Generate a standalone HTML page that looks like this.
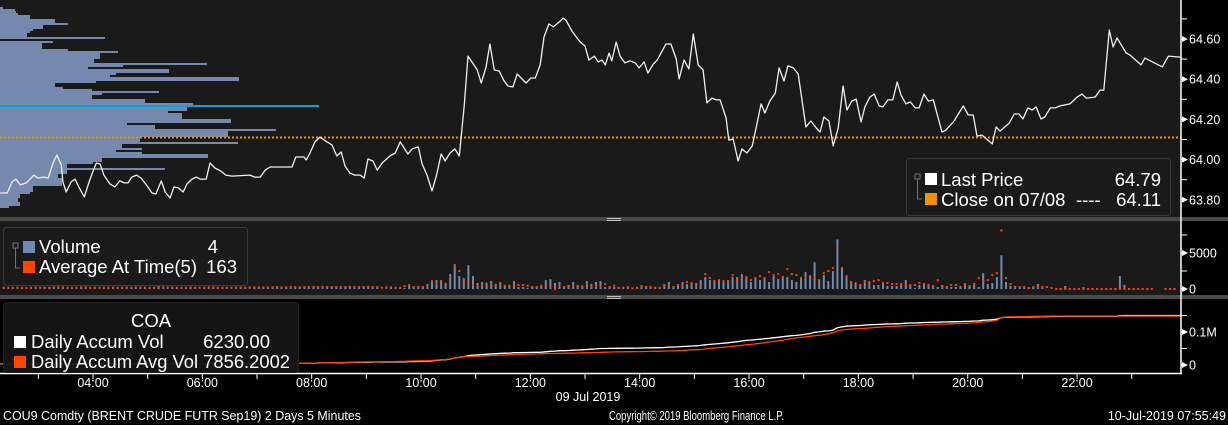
<!DOCTYPE html>
<html><head><meta charset="utf-8"><style>
html,body{margin:0;padding:0;background:#000;width:1228px;height:425px;overflow:hidden}
svg{display:block;font-family:"Liberation Sans",Arial,sans-serif}
</style></head><body>
<svg id="chart" width="1228" height="425" viewBox="0 0 1228 425" xmlns="http://www.w3.org/2000/svg">
<rect x="0" y="0" width="1228" height="425" fill="#000"/>
<rect x="0" y="0" width="1181" height="217" fill="#1a1a1a"/>
<rect x="0" y="217" width="1228" height="4" fill="#4a4a4a"/>
<rect x="0" y="221" width="1181" height="74" fill="#1a1a1a"/>
<rect x="0" y="295" width="1228" height="4" fill="#4a4a4a"/>
<rect x="0" y="299" width="1181" height="74" fill="#000"/>
<g id="profile" shape-rendering="crispEdges"></g><g id="price"></g><g id="vol"></g><g id="acc"></g><g id="axes"></g>
</svg>
<script>
const priceHours=[2.30,2.43,2.52,2.59,2.67,2.78,2.85,2.92,2.99,3.10,3.18,3.27,3.34,3.42,3.45,3.51,3.60,3.67,3.74,3.84,3.91,3.98,4.06,4.13,4.20,4.31,4.40,4.49,4.57,4.64,4.71,4.80,4.88,4.99,5.08,5.15,5.25,5.32,5.41,5.48,5.56,5.65,5.72,5.81,5.89,5.96,6.07,6.14,6.23,6.34,6.43,6.54,6.87,6.96,7.06,7.15,7.24,7.64,7.71,7.86,7.90,7.97,8.06,8.15,8.28,8.37,8.46,8.54,8.61,8.70,8.79,8.89,8.96,9.03,9.12,9.20,9.29,9.43,9.53,9.62,9.76,9.84,9.95,10.02,10.11,10.20,10.28,10.37,10.44,10.53,10.62,10.70,10.79,10.86,10.93,11.03,11.10,11.19,11.26,11.34,11.43,11.52,11.59,11.68,11.76,11.83,11.92,12.01,12.09,12.18,12.25,12.34,12.42,12.53,12.60,12.65,12.76,12.91,13.00,13.07,13.17,13.24,13.31,13.37,13.44,13.49,13.57,13.64,13.73,13.82,13.92,13.99,14.08,14.15,14.25,14.32,14.41,14.48,14.57,14.67,14.72,14.81,14.90,14.98,15.07,15.16,15.23,15.32,15.40,15.47,15.58,15.63,15.71,15.80,15.87,15.96,16.06,16.22,16.29,16.38,16.48,16.55,16.64,16.71,16.81,16.90,17.04,17.13,17.23,17.30,17.37,17.46,17.54,17.63,17.72,17.79,17.88,17.96,18.05,18.12,18.21,18.29,18.38,18.45,18.54,18.63,18.71,18.78,18.87,18.95,19.04,19.11,19.20,19.28,19.37,19.53,19.60,19.75,19.92,20.01,20.10,20.17,20.26,20.45,20.52,20.59,20.76,20.85,20.94,21.01,21.10,21.18,21.25,21.34,21.41,21.51,21.60,21.69,21.78,21.87,22.00,22.09,22.17,22.33,22.42,22.49,22.59,22.66,22.73,22.90,22.97,23.17,23.24,23.56,23.67,23.89];
const priceValues=[63.834,63.834,63.889,63.903,63.874,63.884,63.903,63.923,63.908,63.913,63.908,63.983,64.023,63.973,63.889,63.839,63.889,63.903,63.864,63.814,63.874,63.928,63.983,63.978,63.923,63.879,63.864,63.894,63.884,63.884,63.913,63.923,63.908,63.869,63.834,63.829,63.894,63.839,63.809,63.864,63.859,63.839,63.879,63.903,63.913,63.903,63.903,63.983,63.958,63.943,63.923,63.918,63.923,63.913,63.913,63.948,63.963,63.963,64.013,64.013,63.998,64.033,64.088,64.112,64.088,64.073,64.018,64.038,63.968,63.933,63.923,63.923,63.908,64.003,63.993,63.948,63.983,64.018,64.033,64.088,64.028,64.053,64.063,63.978,63.923,63.844,63.918,64.028,63.993,64.033,64.053,64.018,64.267,64.515,64.486,64.446,64.381,64.461,64.575,64.446,64.441,64.391,64.366,64.361,64.426,64.406,64.381,64.406,64.406,64.471,64.610,64.675,64.660,64.685,64.704,64.694,64.640,64.585,64.565,64.495,64.515,64.486,64.495,64.471,64.530,64.491,64.585,64.515,64.481,64.491,64.481,64.456,64.486,64.431,64.476,64.495,64.540,64.575,64.575,64.500,64.401,64.495,64.451,64.625,64.471,64.446,64.282,64.306,64.297,64.297,64.207,64.097,64.102,63.993,64.053,64.033,64.068,64.277,64.232,64.291,64.331,64.456,64.391,64.466,64.456,64.426,64.162,64.192,64.157,64.137,64.212,64.192,64.068,64.157,64.366,64.247,64.291,64.301,64.187,64.262,64.311,64.326,64.267,64.262,64.297,64.297,64.386,64.321,64.277,64.287,64.257,64.257,64.326,64.291,64.297,64.137,64.147,64.192,64.267,64.222,64.222,64.117,64.122,64.078,64.162,64.142,64.182,64.227,64.227,64.202,64.257,64.247,64.262,64.202,64.212,64.257,64.257,64.267,64.272,64.277,64.311,64.326,64.306,64.311,64.346,64.346,64.645,64.560,64.605,64.530,64.520,64.471,64.505,64.461,64.515,64.510];
const closePrice=64.11;
const profileTop=64.76;
const profileVol=[3,15,16,18,30,30,55,55,68,43,43,33,30,27,27,105,0,53,42,42,42,68,118,100,100,100,94,94,207,123,88,169,169,116,110,239,239,96,55,55,63,92,159,102,92,92,145,145,193,319,187,187,168,182,182,182,231,231,127,155,155,276,228,228,228,140,140,238,122,122,142,116,142,208,208,102,102,93,67,67,165,67,67,58,58,62,62,62,62,33,33,33,30,20,20,18,18,20,20,9];
const profileHighlightRow=49;
const VOL_LOT=46;
const volLots=[3,2,2,1,2,3,2,2,1,6,5,6,4,3,3,2,2,3,4,2,2,1,2,3,2,2,3,2,3,4,3,3,2,2,11,2,2,4,5,2,2,3,3,1,2,2,3,3,2,2,1,2,3,2,2,3,4,4,3,6,5,4,7,3,5,4,6,5,9,4,6,5,4,6,3,4,6,5,4,7,6,5,4,
0,2,3,3,5,3,10,5,5,5,15,26,27,26,17,45,75,39,33,72,39,18,21,17,24,15,20,10,10,24,6,6,4,5,5,8,27,30,18,21,6,12,21,12,10,24,15,21,24,6,3,6,3,3,3,0,3,12,6,6,3,3,15,21,6,12,21,15,18,18,27,36,27,27,27,27,27,36,36,45,36,21,33,27,36,21,39,30,39,36,27,21,36,51,39,81,27,42,24,54,150,66,36,21,15,12,27,21,12,12,15,9,9,9,12,27,12,3,12,15,9,9,6,12,6,6,6,9,12,9,15,6,48,15,18,36,102,21,9,3,3,3,3,6,15,6,0,3,0,0,9,0,0,0,6,0,0,0,0,0,0,0,39,12,0,3,0,0,0,0,0,null,null,0,0,0];
const avgLots=[4,4,4,4,4,3,4,5,4,4,4,5,5,5,4,4,4,5,5,4,4,4,4,5,4,4,4,5,4,5,5,4,4,4,5,5,5,5,4,4,4,5,4,4,4,5,5,4,4,4,4,5,5,4,5,5,5,5,5,5,6,5,5,6,6,5,6,6,6,6,6,6,6,6,6,6,7,6,6,6,7,6,6,
4,5,5,4,4,9,12,6,6,6,8,24,16,24,16,35,66,54,22,18,12,10,12,16,16,10,18,10,10,14,12,12,10,6,6,10,10,6,0,10,6,6,8,6,8,8,6,8,6,15,6,10,4,4,6,2,4,6,6,6,4,4,10,10,6,12,10,21,18,12,10,45,33,24,27,24,24,42,24,36,36,27,33,39,33,51,42,45,36,60,45,42,33,36,39,36,27,48,54,63,126,63,39,21,18,12,21,21,24,27,18,18,15,15,15,15,12,12,18,15,12,9,27,6,6,12,12,6,15,9,15,33,24,27,42,48,177,33,15,6,6,6,3,6,6,6,6,3,0,0,0,0,0,0,0,0,0,0,0,0,0,0,0,0,0,0,0,0,0,0,null,null,0,0,0];
const volStartHour=2+20/60;
const accStartHour=7.5;
const accStart=4000;
const priceTicks=[64.7,64.6,64.5,64.4,64.3,64.2,64.1,64.0,63.9,63.8];
const priceLabels=["64.60","64.40","64.20","64.00","63.80"];
const volTicks=[0,2500,5000,7500];
const volLabels=["0","5000"];
const accTicks=[0,50000,100000,150000];
const accLabels=["0","0.1M"];
const hourTicks=[3,4,5,6,7,8,9,10,11,12,13,14,15,16,17,18,19,20,21,22,23];
const hourLabels=["04:00","06:00","08:00","10:00","12:00","14:00","16:00","18:00","20:00","22:00"];

const NS="http://www.w3.org/2000/svg";
const xH=h=>93+(h-4)*54.67;
const yP=p=>39+(64.6-p)*201;
const yV=v=>289-v/1000*7.2;
const yA=a=>365-a/100000*33;
function mk(tag,parent,attrs){const e=document.createElementNS(NS,tag);for(const k in attrs)e.setAttribute(k,attrs[k]);parent.appendChild(e);return e;}

const gp=document.getElementById('profile');
profileVol.forEach((w,i)=>{
  const y=yP(profileTop-i*0.01);
  const r=mk('rect',gp,{x:0,y:Math.round(y),width:w,height:Math.round(yP(profileTop-(i+1)*0.01))-Math.round(y),fill:i===profileHighlightRow?'#00a8e0':'#7489ad'});
  
  
});
const gpr=document.getElementById('price');
const cl=mk('line',gpr,{x1:0,x2:1181,y1:yP(closePrice),y2:yP(closePrice),stroke:'#f39200','stroke-width':2,'stroke-dasharray':'2,2'});


const pts=priceHours.map((h,i)=>xH(h).toFixed(1)+','+yP(priceValues[i]).toFixed(1)).join(' ');
const pl=mk('polyline',gpr,{points:pts,fill:'none',stroke:'#f0f0f0','stroke-width':1.3,'stroke-linejoin':'round'});



const gv=document.getElementById('vol');
let cv=accStart,ca=accStart;const accV=[],accA=[],accX=[];
volLots.forEach((l,i)=>{
  const h=volStartHour+i*5/60+2/60;const x=xH(h);
  const on=h>=accStartHour;
  if(l!==null){
    const v=l*VOL_LOT;if(on)cv+=v;
    if(v>0){const b=mk('rect',gv,{x:(x-1).toFixed(1),y:yV(v).toFixed(1),width:2,height:(289-yV(v)).toFixed(1),fill:'#7089b0'});
    
    }
  }
  const a=avgLots[i];
  if(a!==null&&a!==undefined){
    const av=a*VOL_LOT;if(on)ca+=av;
    const d=mk('rect',gv,{x:(x-1).toFixed(1),y:(yV(av)-1).toFixed(1),width:2,height:2,fill:'#ff4500'});
    
    
  }
  accX.push(x);accV.push(cv);accA.push(ca);
});
const ga=document.getElementById('acc');
function step(xs,vs){let s='M0,'+yA(vs[0]).toFixed(1);xs.forEach((x,i)=>{s+=' L'+x.toFixed(1)+','+yA(vs[i]).toFixed(1);});s+=' L1181,'+yA(vs[vs.length-1]).toFixed(1);return s;}
const la=mk('path',ga,{d:step(accX,accV),fill:'none',stroke:'#ffffff','stroke-width':1.3});


const lb=mk('path',ga,{d:step(accX,accA),fill:'none',stroke:'#ff4500','stroke-width':1.3});



const gx=document.getElementById('axes');
mk('line',gx,{x1:1181,x2:1181,y1:0,y2:374,stroke:'#fff','stroke-width':1.5});
mk('line',gx,{x1:0,x2:1182,y1:373.5,y2:373.5,stroke:'#fff','stroke-width':1.5});
function rtick(y,label){
  mk('line',gx,{x1:1181,x2:1187,y1:y,y2:y,stroke:'#fff','stroke-width':1});
  if(label){mk('path',gx,{d:`M1182,${y-3} L1188,${y} L1182,${y+3}Z`,fill:'#fff'});
    const t=mk('text',gx,{x:1189,y:y+4.5,fill:'#fff','font-size':12.5});t.textContent=label;
    
    }
}
priceTicks.forEach((p,i)=>rtick(yP(p),i%2===1?priceLabels[(i-1)/2]:null));
volTicks.forEach((v,i)=>rtick(yV(v),i%2===0?volLabels[i/2]:null));
accTicks.forEach((v,i)=>rtick(yA(v),i%2===0?accLabels[i/2]:null));
hourTicks.forEach(h=>{mk('line',gx,{x1:xH(h),x2:xH(h),y1:373,y2:379,stroke:'#fff','stroke-width':1});});
hourLabels.forEach((l,i)=>{const t=mk('text',gx,{x:xH(4+2*i),y:387,fill:'#fff','font-size':12.5,'text-anchor':'middle'});t.textContent=l;
  
  });
</script>
<svg style="position:absolute;left:0;top:0" width="1228" height="425" xmlns="http://www.w3.org/2000/svg" font-family="Liberation Sans, Arial, sans-serif">
<g fill="#bbb"><rect x="607" y="218" width="14" height="1"/><rect x="607" y="220" width="14" height="1"/><rect x="607" y="296" width="14" height="1"/><rect x="607" y="298" width="14" height="1"/></g>
<g>
<rect x="906.5" y="158.5" width="264" height="57" rx="3" fill="#1a1a1a" stroke="#3a3a3a"/>
<rect x="915" y="174" width="5" height="5" fill="none" stroke="#888" stroke-width="0.8"/>
<path d="M917.5,179 V199 H922" fill="none" stroke="#888" stroke-width="0.8"/>
<rect x="925" y="173" width="12" height="12" fill="#fff"/>
<text x="941" y="186" fill="#fff" font-size="18.5">Last Price</text>
<text x="1161" y="186" fill="#fff" font-size="18.5" text-anchor="end">64.79</text>
<rect x="925" y="193" width="12" height="12" fill="#f39200"/>
<text x="941" y="206" fill="#fff" font-size="18.5">Close on 07/08</text>
<text x="1076" y="206" fill="#fff" font-size="18.5">----</text>
<text x="1161" y="206" fill="#fff" font-size="18.5" text-anchor="end">64.11</text>
</g>
<g>
<rect x="3.5" y="227.5" width="244" height="58" rx="3" fill="#1a1a1a" stroke="#3a3a3a"/>
<rect x="13" y="243" width="5" height="5" fill="none" stroke="#888" stroke-width="0.8"/>
<path d="M15.5,248 V268 H20" fill="none" stroke="#888" stroke-width="0.8"/>
<rect x="23" y="241" width="12" height="12" fill="#7089b0"/>
<text x="39" y="253" fill="#fff" font-size="18.5">Volume</text>
<text x="218" y="253" fill="#fff" font-size="18.5" text-anchor="end">4</text>
<rect x="23" y="261" width="12" height="12" fill="#ff4500"/>
<text x="39" y="273" fill="#fff" font-size="18.5">Average At Time(5)</text>
<text x="237" y="273" fill="#fff" font-size="18.5" text-anchor="end">163</text>
</g>
<g>
<rect x="3.5" y="302.5" width="295" height="70" rx="3" fill="#161616" stroke="#222" fill-opacity="0.92"/>
<text x="151" y="327" fill="#fff" font-size="18.5" text-anchor="middle">COA</text>
<rect x="14" y="336" width="12" height="12" fill="#fff"/>
<text x="31" y="348" fill="#fff" font-size="18.5">Daily Accum Vol</text>
<text x="270" y="348" fill="#fff" font-size="18.5" text-anchor="end">6230.00</text>
<rect x="14" y="356" width="12" height="12" fill="#ff4500"/>
<text x="31" y="368" fill="#fff" font-size="18.5" textLength="259" lengthAdjust="spacingAndGlyphs">Daily Accum Avg Vol 7856.2002</text>
</g>
<text x="588" y="401" fill="#fff" font-size="12.5" text-anchor="middle">09 Jul 2019</text>
<text x="3" y="420" fill="#fff" font-size="12.5" textLength="358" lengthAdjust="spacingAndGlyphs">COU9 Comdty (BRENT CRUDE FUTR  Sep19) 2 Days 5 Minutes</text>
<text x="609" y="420" fill="#fff" font-size="12.5" textLength="175" lengthAdjust="spacingAndGlyphs">Copyright© 2019 Bloomberg Finance L.P.</text>
<text x="1226" y="420" fill="#fff" font-size="12.5" text-anchor="end">10-Jul-2019 07:55:49</text>
</svg>
</body></html>
